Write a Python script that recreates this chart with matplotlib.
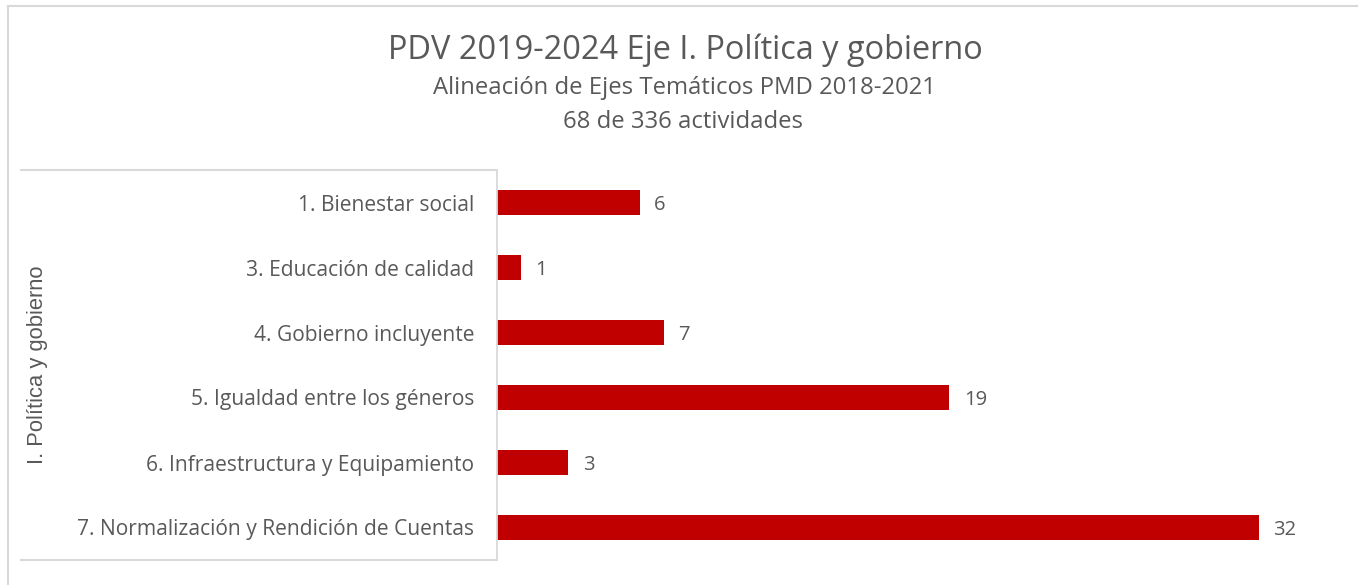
import matplotlib.pyplot as plt
from matplotlib.lines import Line2D

categorias = ["1. Bienestar social", "3. Educación de calidad", "4. Gobierno incluyente",
              "5. Igualdad entre los géneros", "6. Infraestructura y Equipamiento",
              "7. Normalización y Rendición de Cuentas"]
actividades = [6, 1, 7, 19, 3, 32]
grupo = "I. Política y gobierno"
titulo = "PDV 2019-2024 Eje I. Política y gobierno"
subtitulo = ["Alineación de Ejes Temáticos PMD 2018-2021", "68 de 336 actividades"]

W, H = 1358, 585
fig = plt.figure(figsize=(W / 100, H / 100), dpi=100)
plt.rcParams['font.family'] = ['Open Sans', 'DejaVu Sans']
gris = '#595959'
linea = '#d9d9d9'

ax = fig.add_axes([497 / W, (H - 560) / H, (1340 - 497) / W, 390 / H])
pos = list(range(len(categorias)))
ax.barh(pos, actividades, height=0.39, color='#c00000')
for p, v in zip(pos, actividades):
    ax.text(v + 0.6, p, str(v), va='center_baseline', ha='left', fontsize=14.5, color=gris)
ax.set_xlim(0, 35.4)
ax.set_ylim(5.5, -0.5)
ax.set_yticks(pos)
ax.set_yticklabels(categorias, fontsize=15.1, color=gris, va='center_baseline')
ax.tick_params(axis='y', length=0, pad=16.5)
ax.set_xticks([])
for s in ['top', 'right', 'bottom']:
    ax.spines[s].set_visible(False)
ax.spines['left'].set_color(linea)
ax.spines['left'].set_linewidth(1.3)

# caja del eje de categorías
def px(x, y):
    return x / W, 1 - y / H

for (x0, y0), (x1, y1) in [((21, 170), (496, 170)), ((21, 560), (496, 560)),
                           ((8, 6), (8, 585)), ((8, 6), (1358, 6))]:
    a, b = px(x0, y0)
    c, d = px(x1, y1)
    fig.add_artist(Line2D([a, c], [b, d], color=linea, lw=1.5, transform=fig.transFigure))

fig.text(38 / W, 1 - 365 / H, grupo, rotation=90, ha='center', va='center',
         fontsize=15.8, color=gris, family=['Liberation Sans', 'DejaVu Sans'])

fig.text(685 / W, 1 - 50 / H, titulo, ha='center', va='center', fontsize=23.4, color=gris)
fig.text(684 / W, 1 - 88 / H, subtitulo[0], ha='center', va='center', fontsize=17.2, color=gris)
fig.text(683 / W, 1 - 122 / H, subtitulo[1], ha='center', va='center', fontsize=17.2, color=gris)

fig.savefig('out.png', dpi=100, facecolor='white')
